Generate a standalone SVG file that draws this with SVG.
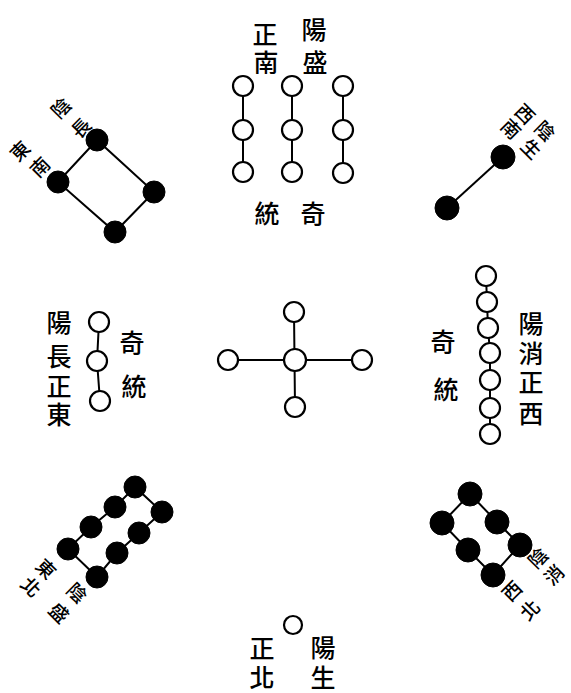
<svg xmlns="http://www.w3.org/2000/svg" width="571" height="693" viewBox="0 0 571 693">
<style>
.w{fill:#fff;stroke:#000;stroke-width:2.2}
.b{fill:#000;stroke:#000;stroke-width:1}
.ln{stroke:#000;stroke-width:2;fill:none}
.t{font-family:"Noto Sans CJK TC","Noto Sans CJK SC",sans-serif;font-weight:500;fill:#000;text-anchor:middle;dominant-baseline:central}
.L{font-size:25px}
.S{font-size:19px}
</style>
<rect width="571" height="693" fill="#fff"/>
<g id="connectors">
<path class="ln" d="M243,86V172M292,86V172M343,86V173"/>
<path class="ln" d="M97,140L58,182L115,232L154,192Z"/>
<path class="ln" d="M503,157L447,208"/>
<path class="ln" d="M99,322L97,361L100,401"/>
<path class="ln" d="M228,360H362M294,312L295,407"/>
<path class="ln" d="M486,276L487,302L488,328L490,353L490,380L490,408L490,434"/>
<path class="ln" d="M135,487L115,507L91,527L68,549L97,577L117,553L139,533L162,512Z"/>
<path class="ln" d="M470,494L442,523L468,550L493,575L520,545L497,522Z"/>
</g>
<g id="south-nine">
<circle class="w" cx="243" cy="86" r="10"/><circle class="w" cx="243" cy="130" r="10"/><circle class="w" cx="243" cy="172" r="10"/>
<circle class="w" cx="292" cy="86" r="10"/><circle class="w" cx="292" cy="130" r="10"/><circle class="w" cx="292" cy="172" r="10"/>
<circle class="w" cx="343" cy="86" r="10"/><circle class="w" cx="343" cy="130" r="10"/><circle class="w" cx="343" cy="173" r="10"/>
<text class="t L" x="265" y="33">正</text><text class="t L" x="266" y="61">南</text>
<text class="t L" x="314" y="28">陽</text><text class="t L" x="315" y="61">盛</text>
<text class="t L" x="267" y="212">統</text><text class="t L" x="313" y="212">奇</text>
</g>
<g id="southeast-four">
<circle class="b" cx="97" cy="140" r="11"/><circle class="b" cx="58" cy="182" r="11"/>
<circle class="b" cx="154" cy="192" r="11"/><circle class="b" cx="115" cy="232" r="11"/>
<text class="t S" transform="rotate(-45 60 107)" x="60" y="107">陰</text>
<text class="t S" transform="rotate(-45 80 127)" x="80" y="127">長</text>
<text class="t S" transform="rotate(-45 19 150)" x="19" y="150">東</text>
<text class="t S" transform="rotate(-45 39 166)" x="39" y="166">南</text>
</g>
<g id="southwest-two">
<circle class="b" cx="503" cy="157" r="12"/><circle class="b" cx="447" cy="208" r="12"/>
<text class="t S" transform="rotate(45 546 130)" x="546" y="130">陰</text>
<text class="t S" transform="rotate(45 532 148)" x="532" y="148">生</text>
<text class="t S" transform="rotate(45 526 113)" x="526" y="113">西</text>
<text class="t S" transform="rotate(45 512 128)" x="512" y="128">南</text>
</g>
<g id="east-three">
<circle class="w" cx="99" cy="322" r="10"/><circle class="w" cx="97" cy="361" r="10"/><circle class="w" cx="100" cy="401" r="10"/>
<text class="t L" x="59" y="321">陽</text><text class="t L" x="59" y="355">長</text>
<text class="t L" x="59" y="385">正</text><text class="t L" x="59" y="413">東</text>
<text class="t L" x="132" y="341">奇</text><text class="t L" x="134" y="385">統</text>
</g>
<g id="center-five">
<circle class="w" cx="294" cy="312" r="10"/><circle class="w" cx="295" cy="360" r="11"/>
<circle class="w" cx="228" cy="360" r="10"/><circle class="w" cx="362" cy="360" r="10"/>
<circle class="w" cx="295" cy="407" r="10"/>
</g>
<g id="west-seven">
<circle class="w" cx="486" cy="276" r="10"/><circle class="w" cx="487" cy="302" r="10"/>
<circle class="w" cx="488" cy="328" r="10"/><circle class="w" cx="490" cy="353" r="10"/>
<circle class="w" cx="490" cy="380" r="10"/><circle class="w" cx="490" cy="408" r="10"/>
<circle class="w" cx="490" cy="434" r="10"/>
<text class="t L" x="531" y="322">陽</text><text class="t L" x="531" y="352">消</text>
<text class="t L" x="531" y="381">正</text><text class="t L" x="531" y="412">西</text>
<text class="t L" x="443" y="340">奇</text><text class="t L" x="446" y="388">統</text>
</g>
<g id="northeast-eight">
<circle class="b" cx="135" cy="487" r="11"/><circle class="b" cx="115" cy="507" r="11"/>
<circle class="b" cx="91" cy="527" r="11"/><circle class="b" cx="68" cy="549" r="11"/>
<circle class="b" cx="97" cy="577" r="11"/><circle class="b" cx="117" cy="553" r="11"/>
<circle class="b" cx="139" cy="533" r="11"/><circle class="b" cx="162" cy="512" r="11"/>
<text class="t S" transform="rotate(45 78 592)" x="78" y="592">陰</text>
<text class="t S" transform="rotate(45 60 612)" x="60" y="612">盛</text>
<text class="t S" transform="rotate(45 47 568)" x="47" y="568">東</text>
<text class="t S" transform="rotate(45 32 586)" x="32" y="586">北</text>
</g>
<g id="northwest-six">
<circle class="b" cx="470" cy="494" r="12"/><circle class="b" cx="442" cy="523" r="12"/>
<circle class="b" cx="497" cy="522" r="12"/><circle class="b" cx="520" cy="545" r="12"/>
<circle class="b" cx="468" cy="550" r="12"/><circle class="b" cx="493" cy="575" r="12"/>
<text class="t S" transform="rotate(-45 537 557)" x="537" y="557">陰</text>
<text class="t S" transform="rotate(-45 553 574)" x="553" y="574">消</text>
<text class="t S" transform="rotate(-45 511 590)" x="511" y="590">西</text>
<text class="t S" transform="rotate(-45 529 609)" x="529" y="609">北</text>
</g>
<g id="north-one">
<circle class="w" cx="293" cy="625" r="9"/>
<text class="t L" x="262" y="647">正</text><text class="t L" x="262" y="676">北</text>
<text class="t L" x="323" y="646">陽</text><text class="t L" x="323" y="676">生</text>
</g>
</svg>
